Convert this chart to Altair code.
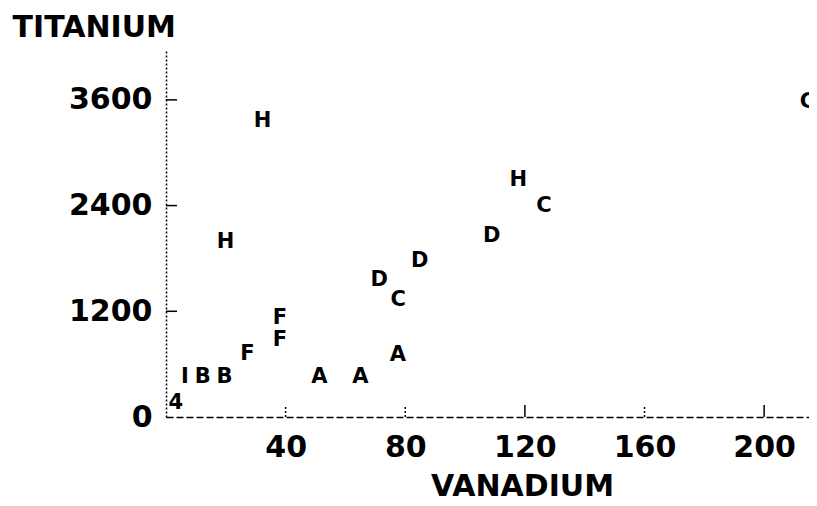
import altair as alt
import pandas as pd

# Data
labels = ["H", "H", "H", "C", "D", "D", "D", "C", "F", "F", "F",
          "A", "A", "A", "I", "B", "B", "4", "C"]
vanadium = [32.3, 19.9, 117.8, 126.4, 108.9, 84.8, 71.3, 77.6, 38.1, 38.1, 27.2,
            51.3, 65.0, 77.5, 6.3, 12.3, 19.6, 3.3, 214.5]
titanium = [3360, 1986, 2690, 2395, 2054, 1771, 1555, 1328, 1120, 874, 715,
            457, 457, 704, 457, 457, 457, 155, 3579]

x_ticks = [40, 80, 120, 160, 200]
x_ticks_solid = [120, 200]
x_ticks_dotted = [40, 80, 160]
y_ticks = [0, 1200, 2400, 3600]
y_ticks_marked = [1200, 2400, 3600]

FONT = "DejaVu Sans"
W, H = 643, 367

df = pd.DataFrame({"label": labels, "vanadium": vanadium, "titanium": titanium})

xscale = alt.Scale(domain=[0, 215], nice=False, zero=False)
yscale = alt.Scale(domain=[0, 4166], nice=False, zero=False)

x_axis = alt.Axis(
    values=x_ticks, format="d", ticks=False, grid=False, title="VANADIUM",
    domainColor="black", domainDash=[7, 3], domainWidth=1.5,
    labelFont=FONT, labelFontSize=30, labelFontWeight="bold", labelColor="black",
    labelPadding=15, labelBaseline="top", labelFlush=False, labelOverlap=False,
    titleFont=FONT, titleFontSize=30, titleFontWeight="bold", titleColor="black",
    titleX=356, titleY=78, titleAlign="center", titleBaseline="alphabetic",
)
y_axis = alt.Axis(
    values=y_ticks, format="d", ticks=False, grid=False, title="TITANIUM",
    domainColor="black", domainDash=[2, 2], domainWidth=1.5,
    labelFont=FONT, labelFontSize=30, labelFontWeight="bold", labelColor="black",
    labelPadding=14, labelBaseline="middle", labelFlush=False, labelOverlap=False,
    titleFont=FONT, titleFontSize=30, titleFontWeight="bold", titleColor="black",
    titleAngle=0, titleX=-154, titleY=-14, titleAlign="left", titleBaseline="alphabetic",
)

points = alt.Chart(df).mark_text(
    font=FONT, fontSize=21, fontWeight="bold", color="black",
    align="center", baseline="middle", clip=True,
).encode(
    x=alt.X("vanadium:Q", scale=xscale, axis=x_axis),
    y=alt.Y("titanium:Q", scale=yscale, axis=y_axis),
    text="label:N",
)

ytick_rules = alt.Chart(pd.DataFrame({"titanium": y_ticks_marked})).mark_rule(
    color="black", strokeWidth=1.5
).encode(
    y=alt.Y("titanium:Q", scale=yscale),
    x=alt.value(0), x2=alt.value(11),
)

xtick_solid = alt.Chart(pd.DataFrame({"vanadium": x_ticks_solid})).mark_rule(
    color="black", strokeWidth=1.5
).encode(
    x=alt.X("vanadium:Q", scale=xscale),
    y=alt.value(H), y2=alt.value(H - 12),
)

xtick_dotted = alt.Chart(pd.DataFrame({"vanadium": x_ticks_dotted})).mark_rule(
    color="black", strokeWidth=1.5, strokeDash=[2, 2]
).encode(
    x=alt.X("vanadium:Q", scale=xscale),
    y=alt.value(H), y2=alt.value(H - 12),
)

chart = alt.layer(points, ytick_rules, xtick_solid, xtick_dotted).properties(
    width=W, height=H,
    autosize=alt.AutoSizeParams(type="none"),
    padding={"left": 158, "top": 42, "right": 0, "bottom": 88},
    background="white",
).configure_view(stroke=None)

chart.save("out.html", embed_options={"renderer": "svg", "actions": False})
